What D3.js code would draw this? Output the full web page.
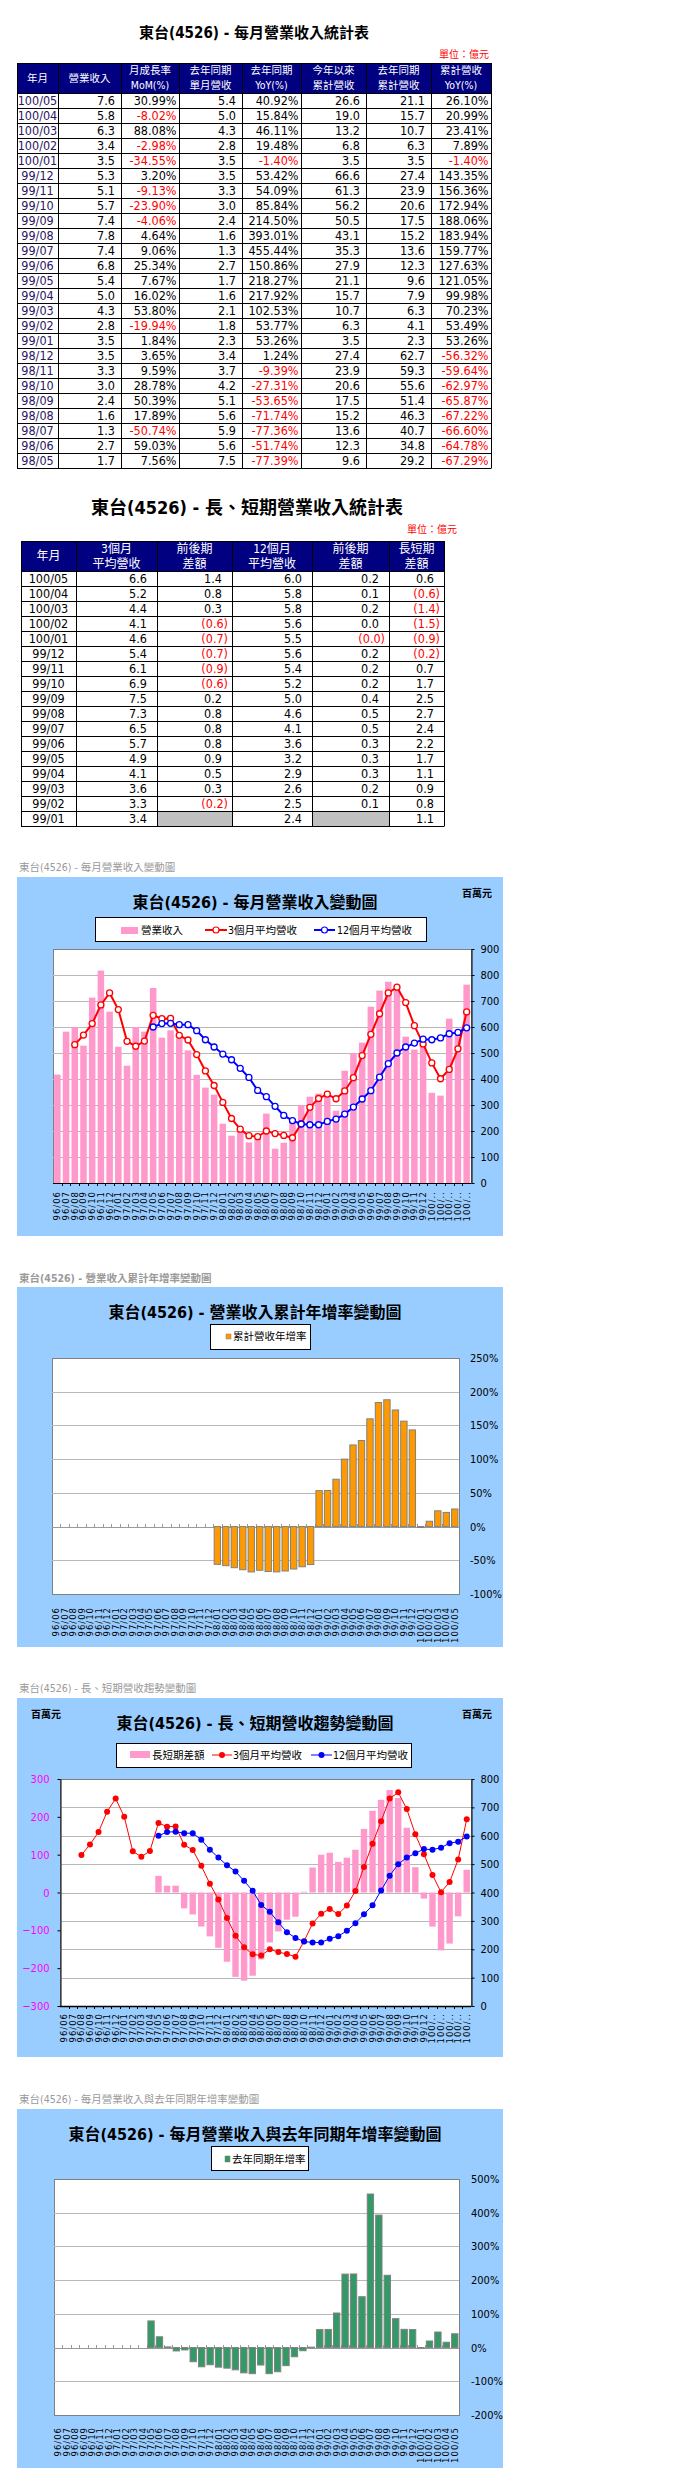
<!DOCTYPE html>
<html>
<head>
<meta charset="utf-8">
<script src="https://cdn.jsdelivr.net/npm/d3@7"></script>
<style>
  body { margin: 0; background: #fff; }
</style>
</head>
<body>
<div id="page"></div>
<script>
// ---- chart data (百萬元 / %) ----
var months = ["96/06","96/07","96/08","96/09","96/10","96/11","96/12",
  "97/01","97/02","97/03","97/04","97/05","97/06","97/07","97/08","97/09","97/10","97/11","97/12",
  "98/01","98/02","98/03","98/04","98/05","98/06","98/07","98/08","98/09","98/10","98/11","98/12",
  "99/01","99/02","99/03","99/04","99/05","99/06","99/07","99/08","99/09","99/10","99/11","99/12",
  "100/01","100/02","100/03","100/04","100/05"];

var revenue = [417,582,599,528,713,817,659,
  524,451,600,582,750,559,587,556,510,416,367,340,
  228,182,208,156,170,267,132,155,240,300,332,344,
  341,278,432,500,540,678,740,774,744,563,513,535,
  347,336,632,581,763];

var avg3 = [null,null,532,569,613,685,731,
  667,545,526,546,645,632,633,568,550,494,431,375,
  310,248,207,182,178,200,190,183,174,228,291,325,
  342,324,354,405,490,572,651,731,753,694,605,535,
  462,401,437,516,658];

var avg12 = [null,null,null,null,null,null,null,
  null,null,null,null,600,613,614,609,609,586,551,523,
  496,474,441,406,356,332,295,260,240,227,224,224,
  237,246,265,292,323,355,407,459,500,523,538,553,
  551,558,574,579,597];

var lsDiff = [null,null,null,null,null,null,null,
  null,null,null,null,44,18,18,-42,-58,-90,-116,-146,
  -183,-223,-233,-220,-177,-132,-103,-72,-64,2,66,100,
  105,81,92,113,168,216,245,271,250,171,67,-16,
  -90,-153,-135,-63,60];

var ytdYoy = [null,null,null,null,null,null,null,
  null,null,null,null,null,null,null,null,null,null,null,null,
  -56,-58,-61,-64,-67.29,-64.78,-66.60,-67.22,-65.87,-62.97,-59.64,-56.32,
  53.26,53.49,70.23,99.98,121.05,127.63,159.77,183.94,188.06,172.94,156.36,143.35,
  -1.40,7.89,23.41,20.99,26.10];

var yoy = [null,null,null,null,null,null,null,
  null,null,null,null,79,32,2,-10,-7,-42,-57,-51,
  -58,-61,-66,-75,-77.39,-51.74,-77.36,-71.74,-53.65,-27.31,-9.39,1.24,
  53.26,53.77,102.53,217.92,218.27,150.86,455.44,393.01,214.50,85.84,54.09,53.42,
  -1.40,19.48,46.11,15.84,40.92];

// ---- table 1 (億元 / %) ----
var t1Month = ["100/05","100/04","100/03","100/02","100/01","99/12","99/11","99/10","99/09","99/08","99/07","99/06",
  "99/05","99/04","99/03","99/02","99/01","98/12","98/11","98/10","98/09","98/08","98/07","98/06","98/05"];
var t1Rev = [7.6,5.8,6.3,3.4,3.5,5.3,5.1,5.7,7.4,7.8,7.4,6.8,5.4,5.0,4.3,2.8,3.5,3.5,3.3,3.0,2.4,1.6,1.3,2.7,1.7];
var t1Mom = [30.99,-8.02,88.08,-2.98,-34.55,3.20,-9.13,-23.90,-4.06,4.64,9.06,25.34,7.67,16.02,53.80,-19.94,1.84,
  3.65,9.59,28.78,50.39,17.89,-50.74,59.03,7.56];
var t1LastRev = [5.4,5.0,4.3,2.8,3.5,3.5,3.3,3.0,2.4,1.6,1.3,2.7,1.7,1.6,2.1,1.8,2.3,3.4,3.7,4.2,5.1,5.6,5.9,5.6,7.5];
var t1Yoy = [40.92,15.84,46.11,19.48,-1.40,53.42,54.09,85.84,214.50,393.01,455.44,150.86,218.27,217.92,102.53,53.77,
  53.26,1.24,-9.39,-27.31,-53.65,-71.74,-77.36,-51.74,-77.39];
var t1Ytd = [26.6,19.0,13.2,6.8,3.5,66.6,61.3,56.2,50.5,43.1,35.3,27.9,21.1,15.7,10.7,6.3,3.5,27.4,23.9,20.6,17.5,15.2,13.6,12.3,9.6];
var t1LastYtd = [21.1,15.7,10.7,6.3,3.5,27.4,23.9,20.6,17.5,15.2,13.6,12.3,9.6,7.9,6.3,4.1,2.3,62.7,59.3,55.6,51.4,46.3,40.7,34.8,29.2];
var t1YtdYoy = [26.10,20.99,23.41,7.89,-1.40,143.35,156.36,172.94,188.06,183.94,159.77,127.63,121.05,99.98,70.23,53.49,
  53.26,-56.32,-59.64,-62.97,-65.87,-67.22,-66.60,-64.78,-67.29];

// ---- table 2 (億元) ----
var t2Month = ["100/05","100/04","100/03","100/02","100/01","99/12","99/11","99/10","99/09","99/08","99/07","99/06",
  "99/05","99/04","99/03","99/02","99/01"];
var t2Avg3 = [6.6,5.2,4.4,4.1,4.6,5.4,6.1,6.9,7.5,7.3,6.5,5.7,4.9,4.1,3.6,3.3,3.4];
var t2Diff3 = [1.4,0.8,0.3,-0.6,-0.7,-0.7,-0.9,-0.6,0.2,0.8,0.8,0.8,0.9,0.5,0.3,-0.2,null];
var t2Avg12 = [6.0,5.8,5.8,5.6,5.5,5.6,5.4,5.2,5.0,4.6,4.1,3.6,3.2,2.9,2.6,2.5,2.4];
var t2Diff12 = [0.2,0.1,0.2,0.0,-0.04,0.2,0.2,0.2,0.4,0.5,0.5,0.3,0.3,0.3,0.2,0.1,null];
var t2LsDiff = [0.6,-0.6,-1.4,-1.5,-0.9,-0.2,0.7,1.7,2.5,2.7,2.4,2.2,1.7,1.1,0.9,0.8,1.1];

var FONT_NUM = '"Liberation Sans Narrow","Arial Narrow","DejaVu Sans Condensed","Noto Sans CJK TC",sans-serif';
var FONT_T2 = '"DejaVu Sans Condensed","Noto Sans CJK TC",sans-serif';
var FONT_CJK = '"Noto Sans CJK TC",sans-serif';

var svg = d3.select("#page").append("svg")
  .attr("width", 676)
  .attr("height", 2491)
  .style("display", "block");

// draws a spreadsheet-like table
function drawTable(cols, top, headH, rowH, specs, nRows, headFont, bodyFont, bodySize) {
  var g = svg.append("g");
  var left = cols[0], right = cols[cols.length - 1];
  var bodyTop = top + headH;
  var bottom = bodyTop + nRows * rowH;

  g.append("rect").attr("x", left).attr("y", top)
    .attr("width", right - left).attr("height", headH).attr("fill", "#000080");

  specs.forEach(function(s, i) {
    var cx = (cols[i] + cols[i + 1]) / 2;
    s.head.forEach(function(h, j) {
      var off = s.head.length == 1 ? 0 : (j == 0 ? -7.7 : 7.7);
      g.append("text")
        .attr("x", cx).attr("y", top + headH / 2 + off).attr("dy", "0.36em")
        .attr("text-anchor", "middle").attr("fill", "#fff")
        .style("font-family", FONT_NUM).style("font-size", headFont)
        .text(h);
    });

    // keep the row number with each value
    var rows = s.values.map(function(v, r) { return {v: v, r: r}; });

    // empty cells shown gray
    g.selectAll(null).data(rows.filter(function(d) { return d.v == null; })).enter().append("rect")
      .attr("x", cols[i]).attr("y", function(d) { return bodyTop + d.r * rowH; })
      .attr("width", cols[i + 1] - cols[i]).attr("height", rowH)
      .attr("fill", "#c0c0c0");

    g.selectAll(null).data(rows.filter(function(d) { return d.v != null; })).enter().append("text")
      .attr("x", function(d) { return s.kind == "label" ? cx : cols[i + 1] - s.pad(d.v); })
      .attr("y", function(d) { return bodyTop + d.r * rowH + rowH / 2; })
      .attr("dy", "0.36em")
      .attr("text-anchor", s.kind == "label" ? "middle" : "end")
      .attr("fill", function(d) { return s.kind == "label" ? s.color : (d.v < 0 ? "#ff0000" : "#000"); })
      .style("font-family", bodyFont).style("font-size", bodySize)
      .text(function(d) { return s.fmt(d.v); });
  });

  // grid lines
  g.selectAll(null).data(d3.range(nRows + 1)).enter().append("line")
    .attr("x1", left).attr("x2", right)
    .attr("y1", function(r) { return bodyTop + r * rowH + 0.5; })
    .attr("y2", function(r) { return bodyTop + r * rowH + 0.5; })
    .attr("stroke", "#000");
  g.selectAll(null).data(cols).enter().append("line")
    .attr("x1", function(c) { return c + 0.5; }).attr("x2", function(c) { return c + 0.5; })
    .attr("y1", top).attr("y2", bottom + 0.5)
    .attr("stroke", "#000");
  g.append("line").attr("x1", left).attr("x2", right).attr("y1", top + 0.5).attr("y2", top + 0.5).attr("stroke", "#000");
}

function fmt1(d) { return d.toFixed(1); }
function fmtPct(d) { return d.toFixed(2) + "%"; }
function fmtAcct(d) { return d < 0 ? "(" + Math.abs(d).toFixed(1) + ")" : d.toFixed(1); }
function pad6() { return 6; }
function pad2() { return 2.5; }
function padAcct(d) { return d < 0 ? 4 : 10; }

// ---------- table 1 ----------
svg.append("text").attr("x", 254).attr("y", 33).attr("dy", "0.36em").attr("text-anchor", "middle")
  .style("font-family", FONT_NUM).style("font-size", "15px").style("font-weight", "bold")
  .text("東台(4526) - 每月營業收入統計表");
svg.append("text").attr("x", 489).attr("y", 54).attr("dy", "0.36em").attr("text-anchor", "end")
  .attr("fill", "#ff0000").style("font-family", FONT_CJK).style("font-size", "10px")
  .text("單位：億元");

drawTable([17, 58, 121, 179, 242, 301, 366, 431, 491], 63, 30, 15, [
  {head: ["年月"], values: t1Month, kind: "label", color: "#2b1563", fmt: String},
  {head: ["營業收入"], values: t1Rev, fmt: fmt1, pad: pad6},
  {head: ["月成長率", "MoM(%)"], values: t1Mom, fmt: fmtPct, pad: pad2},
  {head: ["去年同期", "單月營收"], values: t1LastRev, fmt: fmt1, pad: pad6},
  {head: ["去年同期", "YoY(%)"], values: t1Yoy, fmt: fmtPct, pad: pad2},
  {head: ["今年以來", "累計營收"], values: t1Ytd, fmt: fmt1, pad: pad6},
  {head: ["去年同期", "累計營收"], values: t1LastYtd, fmt: fmt1, pad: pad6},
  {head: ["累計營收", "YoY(%)"], values: t1YtdYoy, fmt: fmtPct, pad: pad2}
], t1Month.length, "10.5px", FONT_NUM, "12.5px");

// ---------- table 2 ----------
svg.append("text").attr("x", 247).attr("y", 508).attr("dy", "0.36em").attr("text-anchor", "middle")
  .style("font-family", FONT_T2).style("font-size", "18px").style("font-weight", "bold")
  .text("東台(4526) - 長、短期營業收入統計表");
svg.append("text").attr("x", 457).attr("y", 529).attr("dy", "0.36em").attr("text-anchor", "end")
  .attr("fill", "#ff0000").style("font-family", FONT_CJK).style("font-size", "10px")
  .text("單位：億元");

drawTable([21, 76, 157, 232, 312, 389, 444], 541, 30, 15, [
  {head: ["年月"], values: t2Month, kind: "label", color: "#000", fmt: String},
  {head: ["3個月", "平均營收"], values: t2Avg3, fmt: fmtAcct, pad: padAcct},
  {head: ["前後期", "差額"], values: t2Diff3, fmt: fmtAcct, pad: padAcct},
  {head: ["12個月", "平均營收"], values: t2Avg12, fmt: fmtAcct, pad: padAcct},
  {head: ["前後期", "差額"], values: t2Diff12, fmt: fmtAcct, pad: padAcct},
  {head: ["長短期", "差額"], values: t2LsDiff, fmt: fmtAcct, pad: padAcct}
], t2Month.length, "12px", FONT_T2, "12.5px");

// ---------- chart helpers ----------
function panel(o) {
  var g = svg.append("g");
  g.append("text").attr("x", 19).attr("y", o.labelY).attr("dy", "0.36em")
    .attr("fill", "#9a9a9a").style("font-family", FONT_NUM).style("font-size", "10.5px")
    .style("font-weight", o.labelBold ? "bold" : "normal")
    .text(o.label);
  g.append("rect").attr("x", 17).attr("y", o.top).attr("width", 486).attr("height", o.bottom - o.top)
    .attr("fill", "#99ccff");
  g.append("text").attr("x", 255).attr("y", o.titleY).attr("dy", "0.36em").attr("text-anchor", "middle")
    .style("font-family", FONT_NUM).style("font-size", "16px").style("font-weight", "bold")
    .text(o.title);
  var lg = o.legend;
  g.append("rect").attr("x", lg[0] + 0.5).attr("y", lg[1] + 0.5)
    .attr("width", lg[2] - lg[0]).attr("height", lg[3] - lg[1])
    .attr("fill", "#fff").attr("stroke", "#000");
  g.append("rect").attr("x", o.plot.l + 0.5).attr("y", o.plot.t + 0.5)
    .attr("width", o.plot.r - o.plot.l).attr("height", o.plot.b - o.plot.t)
    .attr("fill", "#fff").attr("stroke", "#808080");
  return g;
}

function legendText(g, x, y, txt) {
  g.append("text").attr("x", x).attr("y", y).attr("dy", "0.36em")
    .style("font-family", FONT_NUM).style("font-size", "10.5px").text(txt);
}

function legendLine(g, x1, x2, y, color, open, w) {
  g.append("line").attr("x1", x1).attr("x2", x2).attr("y1", y).attr("y2", y)
    .attr("stroke", color).attr("stroke-width", w);
  g.append("circle").attr("cx", (x1 + x2) / 2).attr("cy", y).attr("r", 3)
    .attr("fill", open ? "#fff" : color).attr("stroke", color).attr("stroke-width", open ? 1.2 : 0);
}

function gridLines(g, p, y, vals) {
  g.selectAll(null).data(vals).enter().append("line")
    .attr("x1", p.l).attr("x2", p.r)
    .attr("y1", function(d) { return Math.round(y(d)) + 0.5; })
    .attr("y2", function(d) { return Math.round(y(d)) + 0.5; })
    .attr("stroke", "#b8b8b8");
}

function bars(g, x, y, vals, fill, stroke) {
  var pts = months.map(function(m, i) { return {m: m, v: vals[i]}; })
    .filter(function(d) { return d.v != null; });
  g.selectAll(null).data(pts).enter().append("rect")
    .attr("x", function(d) { return x(d.m); })
    .attr("width", x.bandwidth())
    .attr("y", function(d) { return y(Math.max(0, d.v)); })
    .attr("height", function(d) { return Math.abs(y(d.v) - y(0)); })
    .attr("fill", fill)
    .attr("stroke", stroke || "none");
}

function series(g, x, y, vals, color, width, open) {
  var pts = months.map(function(m, i) { return {m: m, v: vals[i]}; })
    .filter(function(d) { return d.v != null; });
  var cx = function(d) { return x(d.m) + x.bandwidth() / 2; };
  g.append("path").datum(pts)
    .attr("d", d3.line().x(cx).y(function(d) { return y(d.v); }))
    .attr("fill", "none").attr("stroke", color).attr("stroke-width", width);
  g.selectAll(null).data(pts).enter().append("circle")
    .attr("cx", cx).attr("cy", function(d) { return y(d.v); })
    .attr("r", 3)
    .attr("fill", open ? "#fff" : color)
    .attr("stroke", color).attr("stroke-width", open ? 1.3 : 0);
}

// category boundary ticks (len > 0 down, < 0 up)
function catTicks(g, x, y0, len, color) {
  var half = (x.step() - x.bandwidth()) / 2;
  g.selectAll(null).data(months.slice(1)).enter().append("line")
    .attr("x1", function(d) { return Math.round(x(d) - half) + 0.5; })
    .attr("x2", function(d) { return Math.round(x(d) - half) + 0.5; })
    .attr("y1", y0).attr("y2", y0 + len)
    .attr("stroke", color);
}

function catLabels(g, x, y0, gap, short) {
  var ax = d3.axisBottom(x).tickSize(0).tickPadding(0)
    .tickFormat(function(d) { return short && d.length > 5 ? d.slice(0, 4) + ".." : d; });
  var a = g.append("g").attr("transform", "translate(0," + y0 + ")").call(ax);
  a.select(".domain").remove();
  a.selectAll("text")
    .attr("transform", "rotate(-90)")
    .attr("x", -gap).attr("y", 0).attr("dy", "0.35em")
    .attr("text-anchor", "end")
    .attr("fill", "#000")
    .style("font-family", '"DejaVu Sans",sans-serif')
    .style("font-size", "8.5px")
    .style("letter-spacing", "1px");
}

function valueAxis(g, y, xPos, vals, side, pad, fmt, color) {
  var ax = (side == "right" ? d3.axisRight(y) : d3.axisLeft(y))
    .tickValues(vals).tickSize(3).tickSizeOuter(0).tickPadding(pad).tickFormat(fmt);
  var a = g.append("g").attr("transform", "translate(" + xPos + ",0)").call(ax);
  a.selectAll("text").attr("fill", color || "#000")
    .style("font-family", FONT_NUM).style("font-size", "11px");
  return a;
}

function bandScale(p) {
  return d3.scaleBand().domain(months).range([p.l, p.r]).paddingInner(0.25).paddingOuter(0.125);
}

// ---------- chart 1: 每月營業收入變動圖 ----------
var p1 = {l: 53, r: 471, t: 949, b: 1183};
var g1 = panel({labelY: 867, label: "東台(4526) - 每月營業收入變動圖", top: 877, bottom: 1236,
  titleY: 902, title: "東台(4526) - 每月營業收入變動圖", legend: [95, 917, 426, 941], plot: p1});
g1.append("text").attr("x", 477).attr("y", 893).attr("dy", "0.36em").attr("text-anchor", "middle")
  .style("font-family", FONT_CJK).style("font-size", "10px").style("font-weight", "bold").text("百萬元");
g1.append("rect").attr("x", 121).attr("y", 927).attr("width", 17).attr("height", 7).attr("fill", "#ff99cc");
legendText(g1, 141, 930, "營業收入");
legendLine(g1, 205, 227, 930, "#ff0000", true, 2);
legendText(g1, 228, 930, "3個月平均營收");
legendLine(g1, 314, 335, 930, "#0000ff", true, 2);
legendText(g1, 337, 930, "12個月平均營收");

var x1 = bandScale(p1);
var y1 = d3.scaleLinear().domain([0, 900]).range([p1.b, p1.t]);
gridLines(g1, p1, y1, d3.range(100, 900, 100));
bars(g1, x1, y1, revenue, "#ff99cc");
series(g1, x1, y1, avg3, "#ff0000", 2, true);
series(g1, x1, y1, avg12, "#0000ff", 2, true);
g1.append("line").attr("x1", p1.l).attr("x2", p1.r).attr("y1", p1.b + 0.5).attr("y2", p1.b + 0.5).attr("stroke", "#000");
catTicks(g1, x1, p1.b, 3, "#000");
valueAxis(g1, y1, p1.r + 0.5, d3.range(0, 901, 100), "right", 6, d3.format("d"));
catLabels(g1, x1, p1.b, 8, true);

// ---------- chart 2: 營業收入累計年增率變動圖 ----------
var p2 = {l: 52, r: 459, t: 1358, b: 1594};
var g2 = panel({labelY: 1278, labelBold: true, label: "東台(4526) -  營業收入累計年增率變動圖", top: 1287, bottom: 1647,
  titleY: 1312, title: "東台(4526) -  營業收入累計年增率變動圖", legend: [210, 1324, 310, 1349], plot: p2});
g2.append("rect").attr("x", 226).attr("y", 1334).attr("width", 5).attr("height", 5)
  .attr("fill", "#ff9900").attr("stroke", "#808080").attr("stroke-width", 0.5);
legendText(g2, 233, 1336.5, "累計營收年增率");

var x2 = bandScale(p2);
var y2 = d3.scaleLinear().domain([-100, 250]).range([p2.b, p2.t]);
gridLines(g2, p2, y2, [-50, 50, 100, 150, 200]);
g2.append("line").attr("x1", p2.l).attr("x2", p2.r).attr("y1", Math.round(y2(0)) + 0.5).attr("y2", Math.round(y2(0)) + 0.5).attr("stroke", "#999");
catTicks(g2, x2, Math.round(y2(0)), -3, "#999");
bars(g2, x2, y2, ytdYoy, "#ff9900", "#808080");
valueAxis(g2, y2, p2.r, d3.range(-100, 251, 50), "right", 8, function(d) { return d + "%"; })
  .call(function(a) { a.select(".domain").remove(); a.selectAll("line").remove(); });
catLabels(g2, x2, p2.b, 13, false);

// ---------- chart 3: 長、短期營收趨勢變動圖 ----------
var p3 = {l: 60, r: 471, t: 1779, b: 2006};
var g3 = panel({labelY: 1688, label: "東台(4526) -  長、短期營收趨勢變動圖", top: 1698, bottom: 2057,
  titleY: 1723, title: "東台(4526) -  長、短期營收趨勢變動圖", legend: [116, 1743, 411, 1767], plot: p3});
g3.append("text").attr("x", 46).attr("y", 1714).attr("dy", "0.36em").attr("text-anchor", "middle")
  .style("font-family", FONT_CJK).style("font-size", "10px").style("font-weight", "bold").text("百萬元");
g3.append("text").attr("x", 477).attr("y", 1714).attr("dy", "0.36em").attr("text-anchor", "middle")
  .style("font-family", FONT_CJK).style("font-size", "10px").style("font-weight", "bold").text("百萬元");
g3.append("rect").attr("x", 130).attr("y", 1751).attr("width", 20).attr("height", 7).attr("fill", "#ff99cc");
legendText(g3, 152, 1755, "長短期差額");
legendLine(g3, 212, 232, 1755, "#ff0000", false, 1);
legendText(g3, 233, 1755, "3個月平均營收");
legendLine(g3, 311, 332, 1755, "#0000ff", false, 1);
legendText(g3, 333, 1755, "12個月平均營收");

var x3 = bandScale(p3);
var y3L = d3.scaleLinear().domain([-300, 300]).range([p3.b, p3.t]);
var y3R = d3.scaleLinear().domain([0, 800]).range([p3.b, p3.t]);
gridLines(g3, p3, y3R, d3.range(100, 800, 100));
bars(g3, x3, y3L, lsDiff, "#ff99cc");
series(g3, x3, y3R, avg3, "#ff0000", 1, false);
series(g3, x3, y3R, avg12, "#0000ff", 1, false);
g3.append("line").attr("x1", p3.l).attr("x2", p3.r).attr("y1", p3.b + 0.5).attr("y2", p3.b + 0.5)
  .attr("stroke", "#000").attr("stroke-width", 1.5);
catTicks(g3, x3, p3.b, 3, "#000");
valueAxis(g3, y3R, p3.r + 0.5, d3.range(0, 801, 100), "right", 6, d3.format("d"));
valueAxis(g3, y3L, p3.l + 0.5, d3.range(-300, 301, 100), "left", 8, d3.format("d"), "#ff00ff");
catLabels(g3, x3, p3.b, 7, true);

// ---------- chart 4: 每月營業收入與去年同期年增率變動圖 ----------
var p4 = {l: 54, r: 459, t: 2179, b: 2415};
var g4 = panel({labelY: 2099, label: "東台(4526) -  每月營業收入與去年同期年增率變動圖", top: 2109, bottom: 2468,
  titleY: 2134, title: "東台(4526) -  每月營業收入與去年同期年增率變動圖", legend: [211, 2146, 308, 2170], plot: p4});
g4.append("rect").attr("x", 225).attr("y", 2156).attr("width", 5).attr("height", 6)
  .attr("fill", "#339966").attr("stroke", "#808080").attr("stroke-width", 0.5);
legendText(g4, 232, 2159, "去年同期年增率");

var x4 = bandScale(p4);
var y4 = d3.scaleLinear().domain([-200, 500]).range([p4.b, p4.t]);
gridLines(g4, p4, y4, [-100, 100, 200, 300, 400]);
g4.append("line").attr("x1", p4.l).attr("x2", p4.r).attr("y1", Math.round(y4(0)) + 0.5).attr("y2", Math.round(y4(0)) + 0.5).attr("stroke", "#999");
catTicks(g4, x4, Math.round(y4(0)), -3, "#999");
bars(g4, x4, y4, yoy, "#339966", "#808080");
valueAxis(g4, y4, p4.r, d3.range(-200, 501, 100), "right", 9, function(d) { return d + "%"; })
  .call(function(a) { a.select(".domain").remove(); a.selectAll("line").remove(); });
catLabels(g4, x4, p4.b, 12, false);
</script>
</body>
</html>
